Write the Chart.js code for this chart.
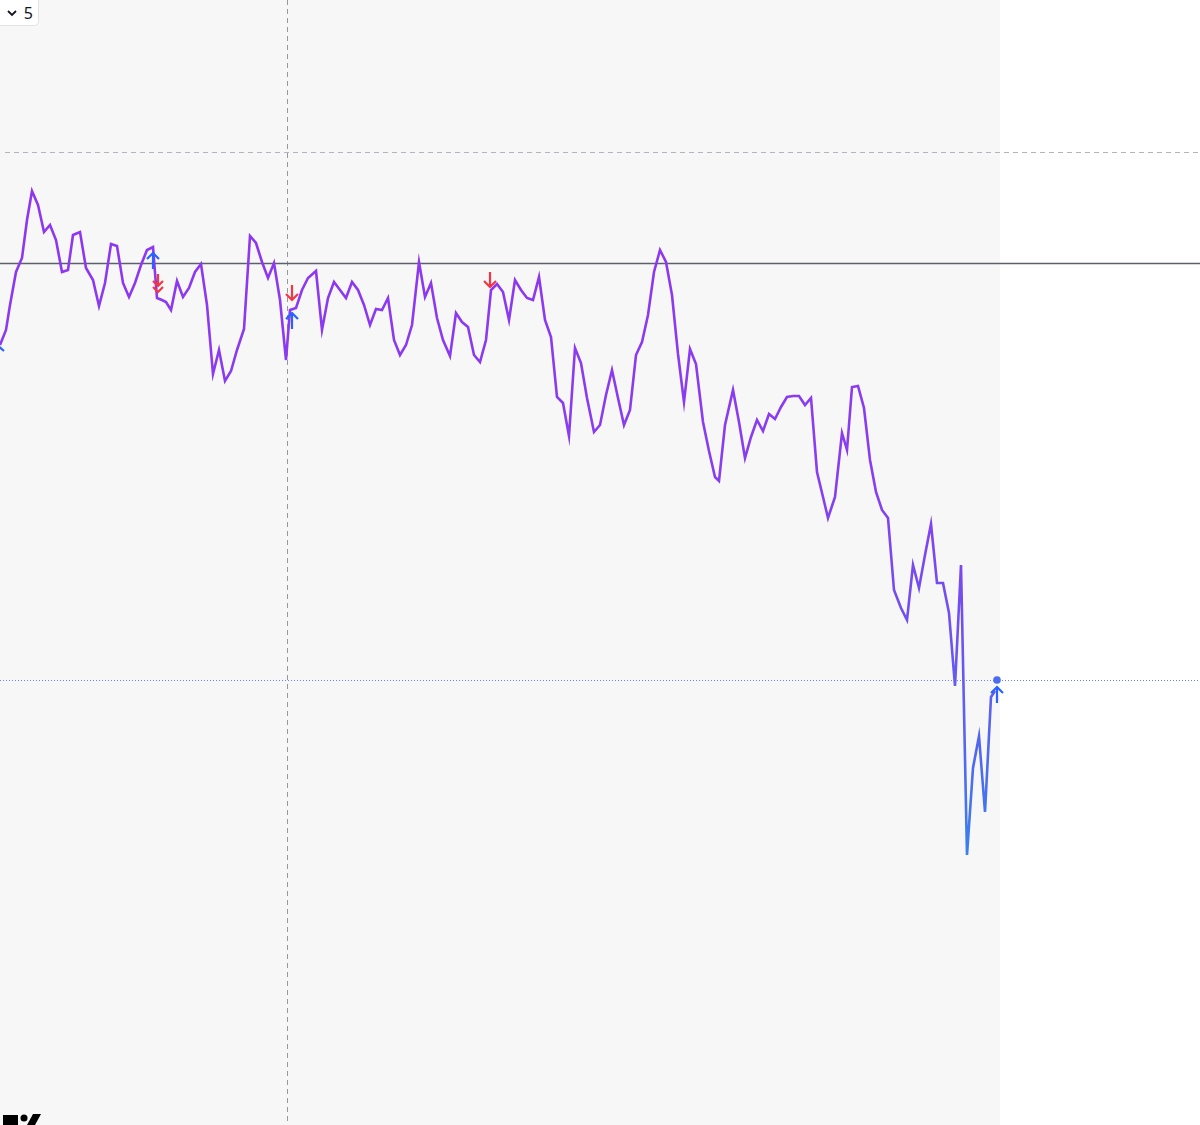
<!DOCTYPE html>
<html>
<head>
<meta charset="utf-8">
<script src="https://cdn.jsdelivr.net/npm/chart.js@4/dist/chart.umd.min.js"></script>
<style>
html,body{margin:0;padding:0;background:#fff;overflow:hidden;}
#wrap{position:relative;width:1200px;height:1125px;}
#c{display:block;}
#badge{position:absolute;left:-5px;top:0px;width:44px;height:26px;box-sizing:border-box;background:#fff;border:1px solid #e3e3e3;border-top:none;border-radius:0 0 5px 5px;font-family:"Noto Sans",Arial,sans-serif;font-size:16px;color:#131722;display:flex;align-items:center;justify-content:flex-end;padding-right:5px;gap:6px;}
#logo{position:absolute;left:0;top:1110px;}
</style>
</head>
<body>
<div id="wrap">
<canvas id="c" width="1200" height="1125"></canvas>
<div id="badge"><svg width="12" height="8" viewBox="0 0 12 8"><path d="M2 2 L6 6 L10 2" stroke="#131722" stroke-width="1.8" fill="none"/></svg><span>5</span></div>
<svg id="logo" width="60" height="15" viewBox="0 0 60 15"><rect x="3" y="5" width="15" height="10" fill="#000"/><rect x="10" y="5" width="8" height="10" fill="#000"/><circle cx="24" cy="8" r="3.5" fill="#000"/><path d="M33 4 L41 4 L35 15 L27 15 Z" fill="#000"/></svg>
</div>
<script>
// time axis (bar positions) and closing values
const times = [0,6,10,16,22,27,32,38,44,50,56,62,68,73,80,86,93,99,105,111,117,123,129,135,141,147,153,157,162,166,171,177,183,189,195,201,207,213,219,225,231,237,244,250,256,262,268,274,280,286,290,296,302,308,316,322,328,334,340,346,352,358,364,370,376,382,388,394,400,406,412,419,425,431,437,443,450,456,462,468,474,480,486,491,497,503,509,515,521,527,533,539,545,551,557,563,569,575,581,587,594,600,606,612,618,624,630,636,642,648,654,660,666,672,678,684,690,696,703,709,715,719,725,733,739,745,751,757,763,769,775,781,787,793,799,805,811,817,823,828,835,842,847,852,858,864,870,876,882,888,894,901,907,913,919,925,931,937,943,949,955,961,967,973,979,985,991,995];
const ypix = [345,330,305,272,258,220,191,205,232,225,240,272,270,235,232,268,280,306,283,244,246,283,297,283,265,250,247,298,300,302,310,281,297,288,272,264,305,374,350,381,371,350,329,236,243,262,278,263,300,360,310,308,290,278,271,330,298,282,290,298,282,290,305,325,309,310,298,340,355,345,325,262,297,283,318,340,356,313,322,327,355,362,340,290,284,292,320,280,290,298,300,277,320,337,397,403,436,348,363,398,432,425,395,370,398,425,410,355,342,315,272,250,262,295,354,402,349,364,422,451,477,481,425,390,422,458,437,420,431,414,419,407,397,396,396,405,398,472,497,518,497,433,450,387,386,408,460,492,510,518,590,608,620,565,588,555,524,583,583,613,686,565,855,768,736,812,697,691];
const values = ypix.map(v => +( (1125 - v) / 10 ).toFixed(1));

// reference levels
const levelDashed = 97.3;
const levelSolid = 86.2;
const levelLast = 44.5;
const cursorTime = 287;
const lastTime = 997;

// signal markers: time, value (arrow tip), kind
const markTimes  = [153, 158, 292, 292, 490, 997, 0];
const markValues = [87.2, 83.9, 82.5, 81.2, 83.8, 43.8, 78.0];
const markKinds  = ['up','down2','down','up','down','up','upedge'];

const data = times.map((t,i)=>({x:t,y:values[i]}));

const overlay = {
  id:'overlay',
  beforeDatasetsDraw(chart){
    const {ctx, scales:{x,y}} = chart;
    const W = chart.width, H = chart.height;
    const xe = x.getPixelForValue(1000);
    ctx.save();
    ctx.fillStyle = '#f7f7f8';
    ctx.fillRect(0,0,xe,H);
    ctx.fillStyle = '#ffffff';
    ctx.fillRect(xe,0,W-xe,H);
    ctx.strokeStyle = '#9598a1';
    ctx.lineWidth = 1;
    ctx.setLineDash([5,4]);
    const cx = Math.round(x.getPixelForValue(cursorTime))+0.5;
    ctx.beginPath(); ctx.moveTo(cx,0); ctx.lineTo(cx,H); ctx.stroke();
    const yd = Math.round(y.getPixelForValue(levelDashed))+0.5;
    ctx.strokeStyle = '#b2b5be';
    ctx.setLineDash([5,4]);
    ctx.beginPath(); ctx.moveTo(5,yd); ctx.lineTo(W,yd); ctx.stroke();
    ctx.setLineDash([]);
    ctx.strokeStyle = '#5d606b';
    ctx.lineWidth = 1.3;
    const ys = Math.round(y.getPixelForValue(levelSolid))+0.5;
    ctx.beginPath(); ctx.moveTo(0,ys); ctx.lineTo(W,ys); ctx.stroke();
    ctx.strokeStyle = '#6b7cf0';
    ctx.lineWidth = 1;
    ctx.setLineDash([1,2]);
    const yl = Math.round(y.getPixelForValue(levelLast))+0.5;
    ctx.beginPath(); ctx.moveTo(0,yl); ctx.lineTo(W,yl); ctx.stroke();
    ctx.restore();
  },
  afterDatasetsDraw(chart){
    const {ctx, scales:{x,y}} = chart;
    ctx.save();
    ctx.lineWidth = 2.2;
    ctx.lineCap = 'butt';
    ctx.lineJoin = 'miter';
    ctx.setLineDash([]);
    markTimes.forEach((t,i)=>{
      const px = Math.round(x.getPixelForValue(t)), py = y.getPixelForValue(markValues[i]);
      const k = markKinds[i];
      ctx.beginPath();
      if(k==='up'){
        ctx.strokeStyle = '#2962ff';
        ctx.moveTo(px,py+1); ctx.lineTo(px,py+16);
        ctx.moveTo(px-6,py+6); ctx.lineTo(px,py); ctx.lineTo(px+6,py+6);
      } else if(k==='down'){
        ctx.strokeStyle = '#f23645';
        ctx.moveTo(px,py-15); ctx.lineTo(px,py-1);
        ctx.moveTo(px-6,py-6); ctx.lineTo(px,py); ctx.lineTo(px+6,py-6);
      } else if(k==='down2'){
        ctx.strokeStyle = '#f23645';
        ctx.moveTo(px,py-12); ctx.lineTo(px,py-1);
        ctx.moveTo(px-5,py-5); ctx.lineTo(px,py); ctx.lineTo(px+5,py-5);
        ctx.moveTo(px-5,py+1); ctx.lineTo(px,py+6); ctx.lineTo(px+5,py+1);
      } else if(k==='upedge'){
        ctx.strokeStyle = '#2962ff';
        ctx.moveTo(px-3,py); ctx.lineTo(px+4,py+6);
      }
      ctx.stroke();
    });
    const dx = x.getPixelForValue(lastTime), dy = y.getPixelForValue(levelLast);
    ctx.fillStyle = '#4a6cf0';
    ctx.beginPath(); ctx.arc(dx,dy,3.8,0,Math.PI*2); ctx.fill();
    ctx.restore();
  }
};

function grad(ctx){
  const chart = ctx.chart; const area = chart.chartArea;
  if(!area) return '#8e3bef';
  const y = chart.scales.y;
  const g = chart.ctx.createLinearGradient(0, y.getPixelForValue(95), 0, y.getPixelForValue(27));
  g.addColorStop(0,'#9035f0');
  g.addColorStop(0.45,'#883ef0');
  g.addColorStop(0.7,'#6a55f0');
  g.addColorStop(0.85,'#5068f0');
  g.addColorStop(1,'#3a80ee');
  return g;
}

new Chart(document.getElementById('c'),{
  type:'line',
  data:{datasets:[{data, borderColor:grad, borderWidth:2.6, pointRadius:0, tension:0, fill:false, borderJoinStyle:'miter'}]},
  options:{
    responsive:false, animation:false,
    layout:{padding:0},
    plugins:{legend:{display:false}, tooltip:{enabled:false}},
    scales:{
      x:{type:'linear', min:0, max:1200, display:false},
      y:{type:'linear', min:0, max:112.5, display:false}
    }
  },
  plugins:[overlay]
});
</script>
</body>
</html>
